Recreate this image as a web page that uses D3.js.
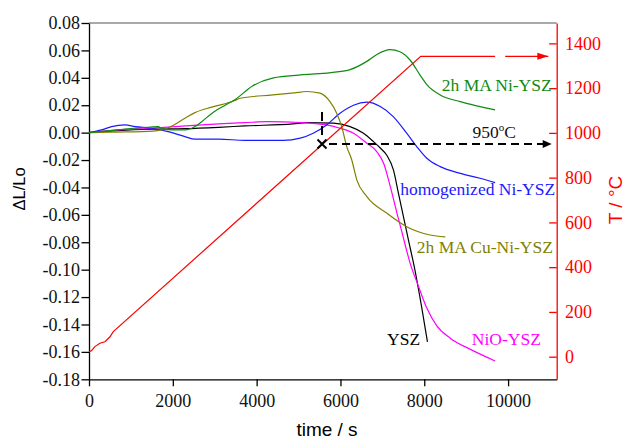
<!DOCTYPE html>
<html><head><meta charset="utf-8">
<script src="https://cdn.jsdelivr.net/npm/d3@7"></script>
<style>body{margin:0;background:#fff} svg{display:block}</style>
</head><body><svg id="c" width="625" height="439"></svg>
<script>
// ---- data ----
const xTicks = [0, 2000, 4000, 6000, 8000, 10000];
const yTicks = [0.08, 0.06, 0.04, 0.02, 0.00, -0.02, -0.04, -0.06, -0.08, -0.10, -0.12, -0.14, -0.16, -0.18];
const tTicks = [0, 200, 400, 600, 800, 1000, 1200, 1400];

const greenT = [0, 500, 1000, 1450, 1650, 1740, 2000, 2290, 2530, 2690, 2930, 3250, 3480, 3900, 4400, 5000, 5500, 5820, 6230, 6630, 6870, 7180, 7420, 7660, 7900, 8060, 8380, 8860, 9250, 9690];
const greenV = [0, 0.0015, 0.003, 0.004, 0.0044, 0.0028, 0.002, 0.002, 0.0044, 0.008, 0.014, 0.020, 0.024, 0.034, 0.040, 0.042, 0.043, 0.044, 0.046, 0.052, 0.057, 0.0605, 0.059, 0.053, 0.042, 0.035, 0.0275, 0.0226, 0.0195, 0.0166];

const oliveT = [0, 600, 1260, 1735, 1950, 2290, 2530, 2930, 3480, 3600, 4390, 4900, 5200, 5510, 5750, 5910, 6030, 6150, 6270, 6390, 6630, 7110, 7580, 8140, 8500];
const oliveV = [0, 0.0004, 0.0007, 0.002, 0.0044, 0.0105, 0.0146, 0.0186, 0.0234, 0.0251, 0.0275, 0.029, 0.030, 0.0288, 0.0226, 0.0142, 0.0044, -0.0102, -0.020, -0.0345, -0.0467, -0.0589, -0.0687, -0.0747, -0.076];

const blueT = [0, 300, 540, 860, 1100, 1500, 1890, 2290, 2530, 3090, 3720, 4630, 5040, 5350, 5670, 5990, 6310, 6630, 6950, 7260, 7580, 7820, 8060, 8380, 8860, 9330, 9690];
const blueV = [0, 0.002, 0.0044, 0.0056, 0.0044, 0.0032, 0.0007, -0.0029, -0.0048, -0.0048, -0.0056, -0.0056, -0.004, -0.0004, 0.0056, 0.0142, 0.020, 0.0222, 0.019, 0.0117, -0.0004, -0.0102, -0.0187, -0.0248, -0.0297, -0.0333, -0.0365];

const magentaT = [0, 700, 1500, 2290, 3090, 3720, 4250, 5040, 5670, 5990, 6310, 6630, 6870, 7030, 7190, 7350, 7470, 7660, 7860, 8060, 8300, 8620, 9090, 9690];
const magentaV = [0, 0.002, 0.0032, 0.0049, 0.0064, 0.0073, 0.008, 0.0074, 0.0056, 0.0032, -0.0004, -0.0077, -0.0140, -0.0224, -0.0394, -0.0589, -0.073, -0.095, -0.112, -0.128, -0.141, -0.150, -0.158, -0.1666];

const blackT = [0, 700, 1500, 2290, 3090, 3720, 4870, 5200, 5830, 6230, 6550, 6790, 6950, 7106, 7264, 7384, 7504, 7623, 7782, 7942, 8076];
const blackV = [0, 0.0015, 0.0025, 0.0029, 0.0039, 0.0049, 0.0064, 0.0073, 0.0069, 0.0044, -0.0004, -0.0066, -0.0112, -0.0165, -0.0272, -0.0443, -0.0614, -0.0784, -0.1010, -0.1280, -0.1527];

const tempT = [0, 60, 140, 260, 380, 500, 580, 7916, 9690];
const tempV = [22, 27, 45, 60, 67, 89, 112, 1342, 1342];
const tempArrowT = [9930, 10960];
const tempArrowV = [1342, 1342];

const markerT = 5560;
const markerTemp = 950;
const markerArrowEndT = 11040;

const seriesNames = ["2h MA Ni-YSZ", "homogenized Ni-YSZ", "2h MA Cu-Ni-YSZ", "YSZ", "NiO-YSZ"];
const seriesColors = ["#118a11", "#1a1aff", "#808000", "#000000", "#ff00ff"];
const labelT = [8418, 7424, 7822, 7113, 9135];
const labelV = [0.0307, -0.0455, -0.0879, -0.1551, -0.1551];

// ---- layout ----
const svg = d3.select("#c");
const L = 89, R = 556.7, T0 = 23, B = 379.3;
const x = d3.scaleLinear().domain([0, 11160]).range([L, R]);
const y = d3.scaleLinear().domain([-0.18, 0.08]).range([B, T0]);
const yT = d3.scaleLinear().domain([-101, 1491]).range([B, T0]);
const serif = "'Liberation Serif','Times New Roman',serif";
const sans = "'Liberation Sans',Arial,sans-serif";

// top frame
svg.append("line").attr("x1", L).attr("x2", R).attr("y1", T0).attr("y2", T0)
  .attr("stroke", "#555").attr("stroke-width", 1.2);

// left axis
const gl = svg.append("g").attr("transform", `translate(${L},0)`);
gl.call(d3.axisLeft(y).tickValues(d3.range(-18, 9).map(d => d / 100)).tickSize(3.5).tickFormat(""));
gl.call(d3.axisLeft(y).tickValues(yTicks).tickSize(7.5).tickSizeOuter(0).tickPadding(1.5).tickFormat(d => d.toFixed(2)));
gl.selectAll("text").attr("font-family", serif).attr("font-size", 18).attr("fill", "#111");
gl.selectAll("path,line").attr("stroke", "#000").attr("stroke-width", 1.3);

// bottom axis
const gb = svg.append("g").attr("transform", `translate(0,${B})`);
gb.call(d3.axisBottom(x).tickValues(d3.range(1000, 11001, 2000)).tickSize(3.5).tickFormat(""));
gb.call(d3.axisBottom(x).tickValues(xTicks).tickSize(7).tickSizeOuter(0).tickFormat(d => String(d)));
gb.selectAll("text").attr("font-family", serif).attr("font-size", 18).attr("fill", "#111").attr("dy", null).attr("y", 28);
gb.selectAll("path,line").attr("stroke", "#000").attr("stroke-width", 1.3);

// right axis (red, inward ticks)
const gr = svg.append("g").attr("transform", `translate(${R},0)`);
gr.call(d3.axisRight(yT).tickValues(d3.range(-100, 1500, 100)).tickSize(-3.5).tickFormat(""));
gr.call(d3.axisRight(yT).tickValues(tTicks).tickSizeInner(-7.5).tickSizeOuter(0).tickPadding(8.3).tickFormat(d => String(d)));
gr.selectAll("text").attr("font-family", serif).attr("font-size", 18).attr("fill", "#ff0000");
gr.selectAll("path,line").attr("stroke", "#ff0000").attr("stroke-width", 1.3);

// axis titles
svg.append("text").attr("transform", "translate(25,189) rotate(-90)").attr("text-anchor", "middle")
  .attr("font-family", sans).attr("font-size", 16.5).attr("fill", "#000").text("\u0394L/Lo");
svg.append("text").attr("x", 327).attr("y", 436).attr("text-anchor", "middle")
  .attr("font-family", sans).attr("font-size", 19).attr("fill", "#000").text("time / s");
svg.append("text").attr("transform", "translate(622,200) rotate(-90)").attr("text-anchor", "middle")
  .attr("font-family", sans).attr("font-size", 19).attr("fill", "#ff0000").text("T / \u00B0C");

// series
const line = d3.line().x(d => x(d[0])).y(d => y(d[1])).curve(d3.curveMonotoneX);
const series = [
  [greenT, greenV], [blueT, blueV], [oliveT, oliveV], [blackT, blackV], [magentaT, magentaV]
];
const drawOrder = [3, 4, 1, 2, 0];
drawOrder.forEach(i => {
  const [ts, vs] = series[i];
  svg.append("path").datum(ts.map((t, k) => [t, vs[k]]))
    .attr("d", line).attr("fill", "none").attr("stroke", seriesColors[i]).attr("stroke-width", 1.2);
});

// temperature
const lineT = d3.line().x(d => x(d[0])).y(d => yT(d[1]));
svg.append("path").datum(tempT.map((t, k) => [t, tempV[k]]))
  .attr("d", lineT).attr("fill", "none").attr("stroke", "#ff0000").attr("stroke-width", 1.2);
svg.append("path").datum(tempArrowT.map((t, k) => [t, tempArrowV[k]]))
  .attr("d", lineT).attr("fill", "none").attr("stroke", "#ff0000").attr("stroke-width", 1.2);
{
  const tx = x(tempArrowT[1]), ty = yT(tempArrowV[1]);
  svg.append("path").attr("d", `M${tx},${ty} L${tx - 11},${ty - 3.5} L${tx - 11},${ty + 3.5} Z`).attr("fill", "#ff0000");
}

// 950 marker
{
  const mx = x(markerT), my = yT(markerTemp);
  svg.append("line").attr("x1", mx).attr("x2", mx).attr("y1", my - 32).attr("y2", my - 6)
    .attr("stroke", "#000").attr("stroke-width", 2).attr("stroke-dasharray", "9,5");
  svg.append("path").attr("d", `M${mx - 4.5},${my - 4.5}L${mx + 4.5},${my + 4.5}M${mx - 4.5},${my + 4.5}L${mx + 4.5},${my - 4.5}`)
    .attr("stroke", "#000").attr("stroke-width", 2);
  const ex = x(markerArrowEndT);
  svg.append("line").attr("x1", mx + 7).attr("x2", ex - 6).attr("y1", my).attr("y2", my)
    .attr("stroke", "#000").attr("stroke-width", 2).attr("stroke-dasharray", "8,5");
  svg.append("path").attr("d", `M${ex},${my} L${ex - 9},${my - 4} L${ex - 9},${my + 4} Z`).attr("fill", "#000");
  const lab = svg.append("text").attr("x", x(9149)).attr("y", yT(975)).attr("font-family", serif)
    .attr("font-size", 17.5).attr("fill", "#111");
  lab.append("tspan").text("950");
  lab.append("tspan").attr("dy", -7).attr("font-size", 11).text("o");
  lab.append("tspan").attr("dy", 7).text("C");
}

// labels
seriesNames.forEach((n, i) => {
  svg.append("text").attr("x", x(labelT[i])).attr("y", y(labelV[i]))
    .attr("font-family", serif).attr("font-size", 17.5).attr("fill", seriesColors[i]).text(n);
});
</script>
</body></html>
